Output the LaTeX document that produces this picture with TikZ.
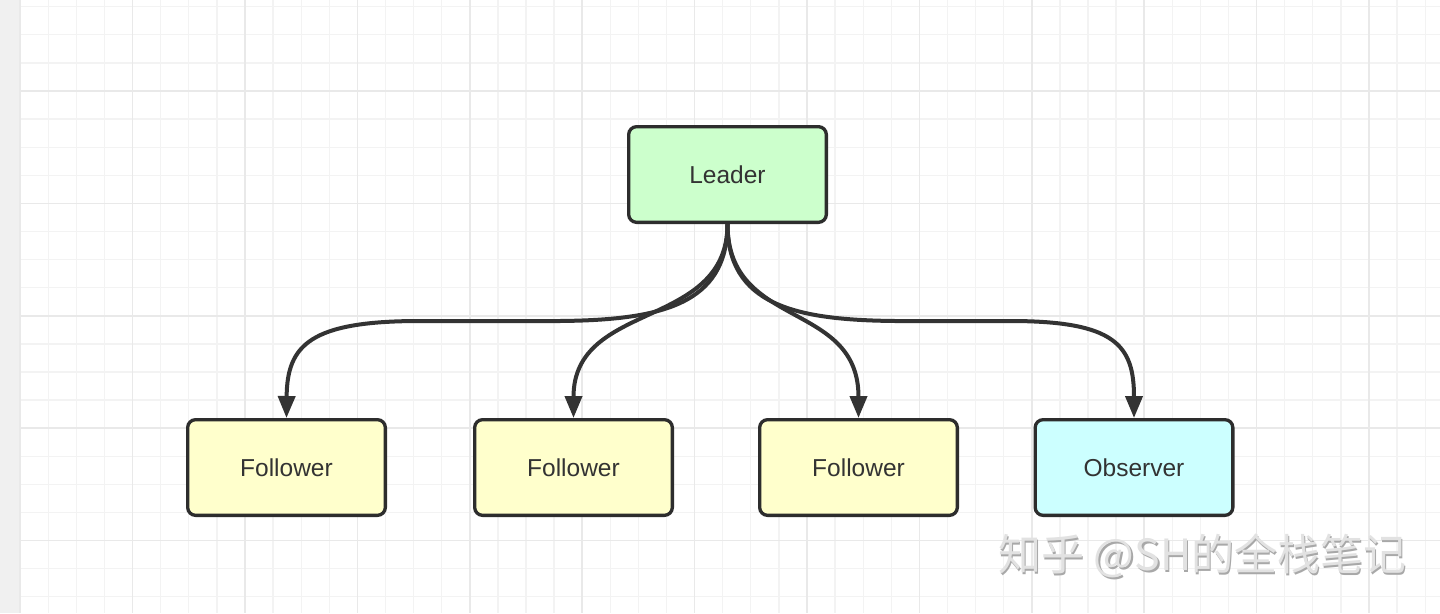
\documentclass[tikz,border=0pt]{standalone}
\usepackage{fontspec}
\setmainfont{Liberation Sans}
\newfontfamily\cjkfont{Noto Sans CJK SC}
\usetikzlibrary{arrows.meta}
\definecolor{stripgray}{HTML}{F0F0F0}
\definecolor{minorcol}{HTML}{F3F3F3}
\definecolor{majorcol}{HTML}{E9E9E9}
\definecolor{boxborder}{HTML}{2D2D2D}
\definecolor{textcol}{HTML}{333333}
\definecolor{edgecol}{HTML}{333333}
\definecolor{leaderfill}{HTML}{CCFFCC}
\definecolor{followerfill}{HTML}{FFFFCC}
\definecolor{observerfill}{HTML}{CCFFFF}
\definecolor{wmfront}{HTML}{E2E2E2}
\definecolor{wmshadow}{HTML}{A8A8A8}
\begin{document}
\begin{tikzpicture}[x=1pt,y=-1pt,
  minorline/.style={draw=minorcol,line width=1.3pt},
  majorline/.style={draw=majorcol,line width=1.5pt},
  box/.style={draw=boxborder,line width=3.3pt,rounded corners=8pt,
    minimum width=197.7pt,minimum height=95.7pt,inner sep=0pt,
    text=textcol,font=\fontsize{24.5}{28}\selectfont},
  leaderbox/.style={box,fill=leaderfill},
  followerbox/.style={box,fill=followerfill},
  observerbox/.style={box,fill=observerfill},
  edge/.style={draw=edgecol,line width=4pt,-{Triangle[length=22pt,width=17pt]}},
  wm/.style={anchor=west,inner sep=0pt,font=\cjkfont\fontsize{43}{43}\selectfont}]
\useasboundingbox (0,0) rectangle (1440,613);
\fill[white] (0,0) rectangle (1440,613);
\fill[stripgray] (0,0) rectangle (20.2,613);
% grid
\foreach \k in {0,...,50} {
  \pgfmathsetmacro\gx{20.2+28.1*\k}
  \draw[minorline] (\gx,0) -- (\gx,613);
}
\foreach \k in {-3,...,18} {
  \pgfmathsetmacro\gy{91+28.1*\k}
  \draw[minorline] (20.2,\gy) -- (1440,\gy);
}
\foreach \k in {0,4,...,48} {
  \pgfmathsetmacro\gx{20.2+28.1*\k}
  \draw[majorline] (\gx,0) -- (\gx,613);
}
\foreach \k in {0,4,...,16} {
  \pgfmathsetmacro\gy{91+28.1*\k}
  \draw[majorline] (20.2,\gy) -- (1440,\gy);
}
% nodes
\node[leaderbox] (L) at (727.5,174.5) {Leader};
\node[followerbox] (F1) at (286.5,467.5) {Follower};
\node[followerbox] (F2) at (573.5,467.5) {Follower};
\node[followerbox] (F3) at (858.5,467.5) {Follower};
\node[observerbox] (O) at (1134,467.5) {Observer};
% edges
\draw[edge] (L.south) .. controls (727.5,305) and (660,320) .. (560,321)
  -- (420,321) .. controls (310,321) and (287,345) .. (F1.north);
\draw[edge] (L.south) .. controls (727.5,330) and (573.5,300) .. (F2.north);
\draw[edge] (L.south) .. controls (727.5,330) and (858.5,300) .. (F3.north);
\draw[edge] (L.south) .. controls (727.5,305) and (795,320) .. (895,321)
  -- (1010,321) .. controls (1115,321) and (1134,345) .. (O.north);
% watermark
\node[wm,text=wmshadow] (wmS) at (999.5,557.5) {知乎 @SH的全栈笔记};
\node[wm,text=wmfront] (wmF) at (998,556) {知乎 @SH的全栈笔记};
\end{tikzpicture}
\end{document}
